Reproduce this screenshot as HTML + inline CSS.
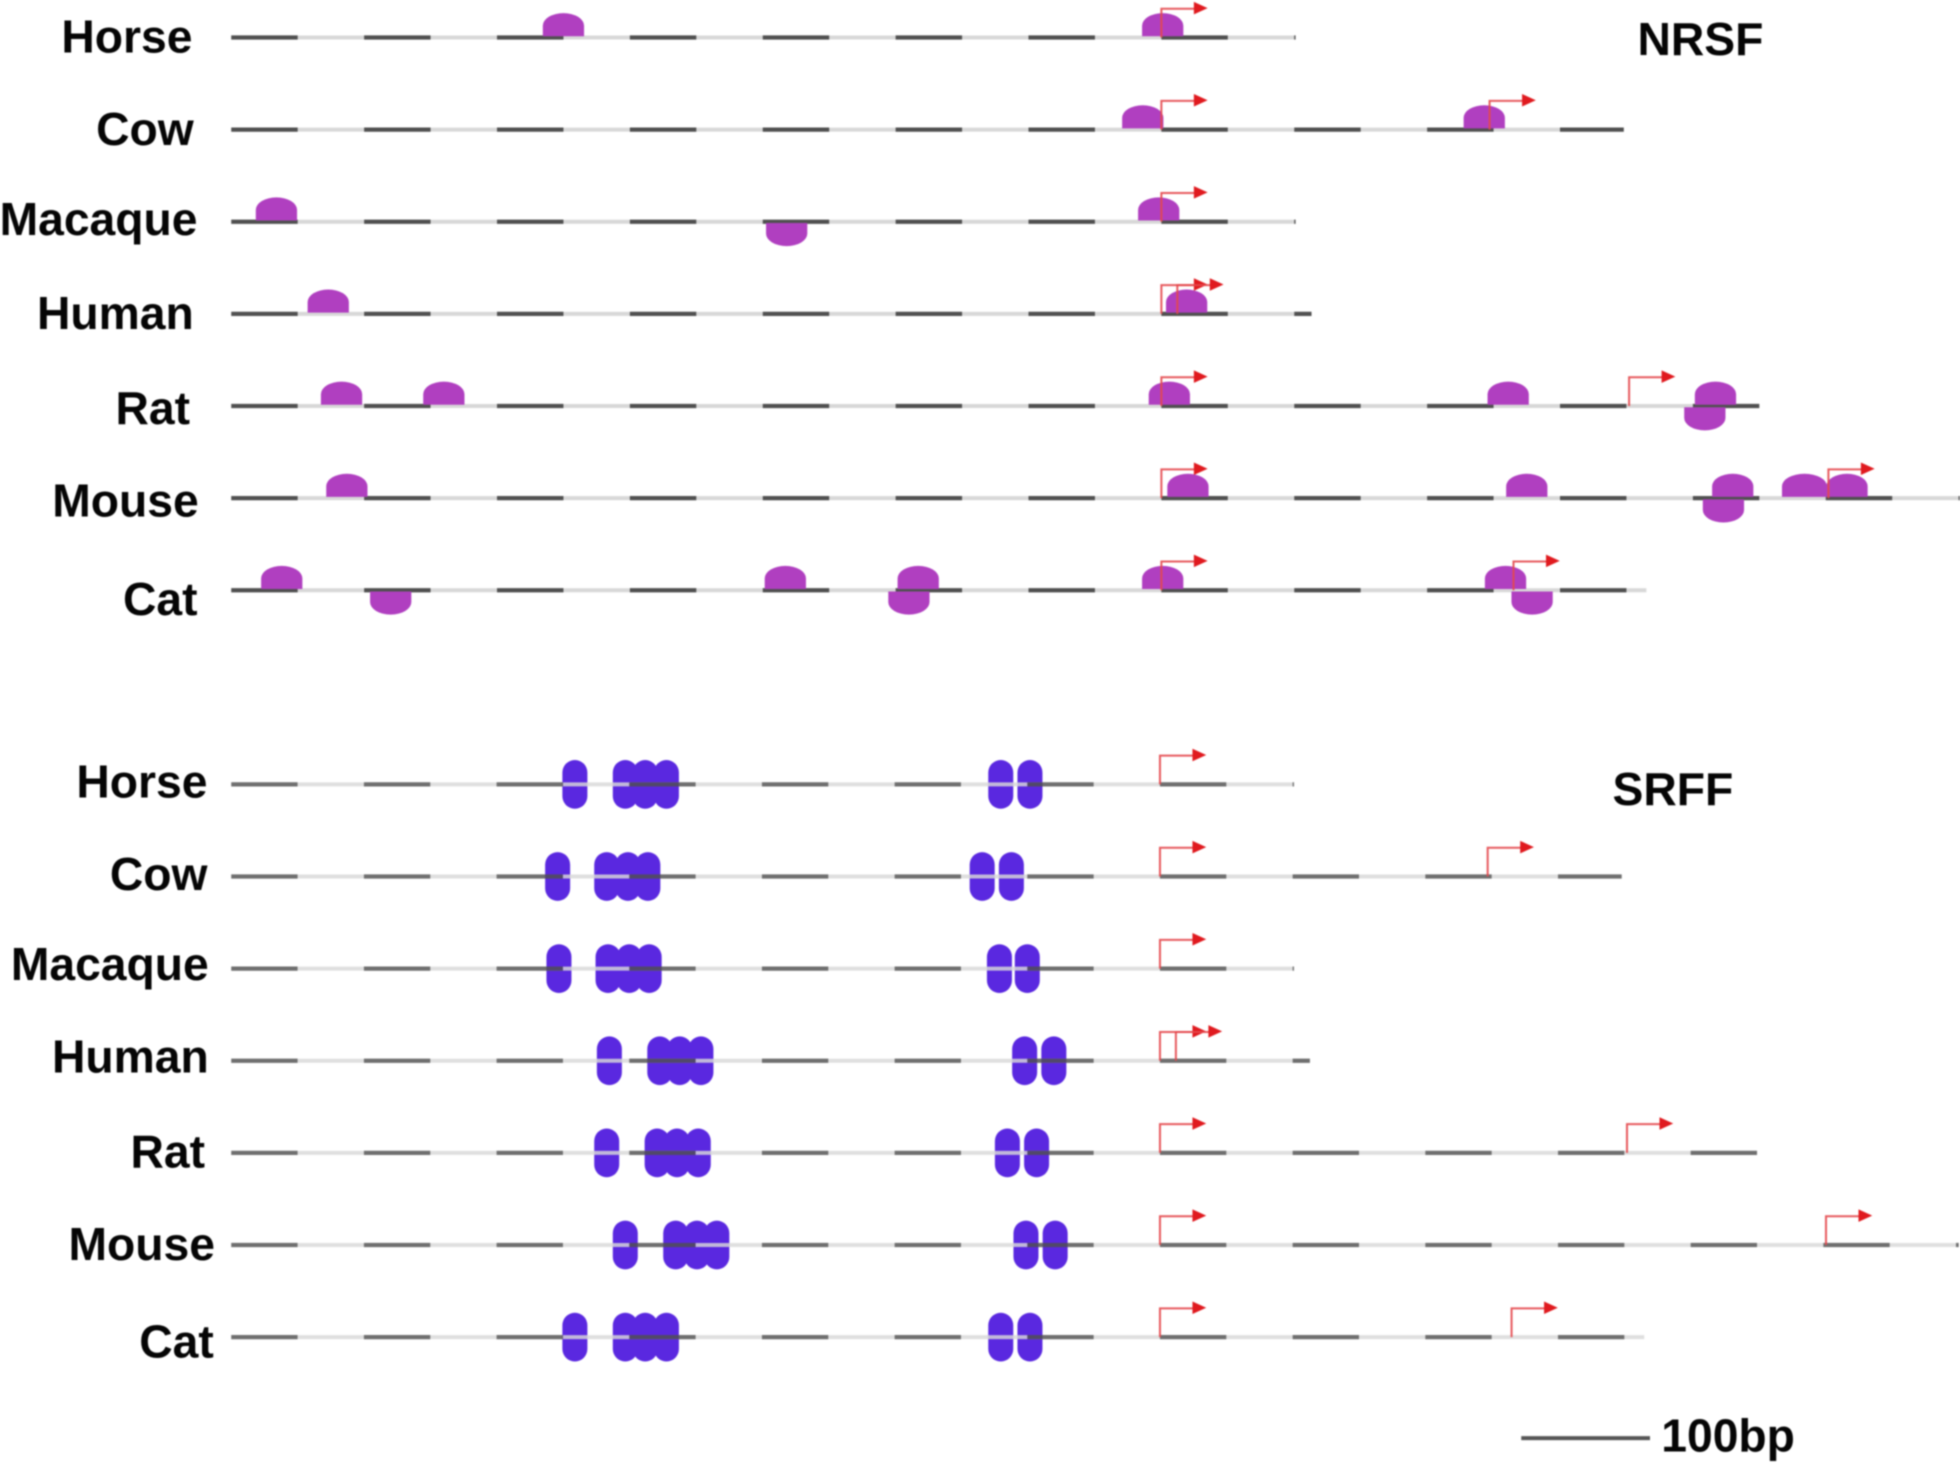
<!DOCTYPE html>
<html lang="en">
<head>
<meta charset="utf-8">
<title>NRSF and SRFF binding sites across species</title>
<style>
html,body{margin:0;padding:0;background:#fff;width:1960px;height:1464px;overflow:hidden}
svg{display:block;filter:blur(0.9px)}
text{font-family:"Liberation Sans",Arial,sans-serif;font-weight:bold;font-size:37px;fill:#050505}
.r{text-anchor:end}
</style>
</head>
<body>
<svg id="chart" xmlns="http://www.w3.org/2000/svg" width="1960" height="1464" viewBox="0 0 1568 1171.2">
<rect x="0" y="0" width="1568" height="1171.2" fill="#fff"/>
<g id="nrsf-layer"></g>
<g id="srff-layer"></g>
<g>
<text class="r" x="154" y="42">Horse</text>
<text class="r" x="155" y="116">Cow</text>
<text class="r" x="158" y="188">Macaque</text>
<text class="r" x="155" y="263">Human</text>
<text class="r" x="152" y="339">Rat</text>
<text class="r" x="159" y="413">Mouse</text>
<text class="r" x="158" y="492">Cat</text>
</g>
<g>
<text class="r" x="166" y="638">Horse</text>
<text class="r" x="166" y="712">Cow</text>
<text class="r" x="167" y="784">Macaque</text>
<text class="r" x="167" y="858">Human</text>
<text class="r" x="164" y="934">Rat</text>
<text class="r" x="172" y="1008">Mouse</text>
<text class="r" x="171" y="1086">Cat</text>
</g>
<text x="1310" y="44">NRSF</text>
<text x="1290" y="644">SRFF</text>
<line x1="1217" y1="1150.5" x2="1320" y2="1150.5" stroke="#555" stroke-width="3.2"/>
<text x="1329" y="1161">100bp</text>
</svg>
<script>
// Species order, top to bottom
const species = ['horse', 'cow', 'macaque', 'human', 'rat', 'mouse', 'cat'];
// Sequence length of each row, in bp
const sequenceEnd = [801, 1048, 801, 813, 1150, 1302, 1065];
// Transcription start sites, in bp
const tssSites = [[700], [700, 947], [700], [700, 712], [700, 1052], [700, 1202], [700, 965]];
// NRSF sites above the line, in bp
const nrsfUpper = [[250, 701], [686, 943], [34, 698], [73, 719], [83, 160, 706, 961, 1117], [87, 720, 975, 1130, 1184, 1216], [38, 417, 517, 701, 959]];
// NRSF sites below the line, in bp
const nrsfLower = [[], [], [418], [], [1109], [1123], [120, 510, 979]];
// SRFF sites (spanning both strands), in bp
const srffSites = [
  [259, 297, 312, 328, 580, 602],
  [246, 283, 299, 314, 566, 588],
  [247, 284, 300, 315, 579, 600],
  [285, 323, 338, 354, 598, 620],
  [283, 321, 336, 352, 585, 607],
  [297, 335, 351, 366, 599, 621],
  [259, 297, 312, 328, 580, 602]
];
// Repeating ruler on each row: dark segment length and period, in bp
const rulerDash = 50;
const rulerPeriod = 100;

const SVG_NS = 'http://www.w3.org/2000/svg';
const originX = 185;
const nrsfBpScale = 1.063;
const srffBpScale = 1.0614;
const nrsfRowTop = 30;
const srffRowTop = 627.5;
const rowStep = 73.7;

function xAxis(bp, scale) { return originX + bp * scale; }
function yAxis(rowIndex, top) { return top + rowIndex * rowStep; }
function add(parent, tag, attrs) {
  const el = document.createElementNS(SVG_NS, tag);
  for (const k in attrs) el.setAttribute(k, attrs[k]);
  parent.appendChild(el);
  return el;
}
function domePath(cx, baseY, dir, w, h) {
  const rx = w / 2, ry = 10, side = h - ry;
  const sweep = dir < 0 ? 1 : 0;
  return 'M' + (cx - rx) + ' ' + baseY + 'V' + (baseY + dir * side) +
    'A' + rx + ' ' + ry + ' 0 0 ' + sweep + ' ' + (cx + rx) + ' ' + (baseY + dir * side) +
    'V' + baseY + 'Z';
}
function drawRuler(group, y, rowIndex, scale, name) {
  const endBp = sequenceEnd[rowIndex];
  const base = add(group, 'line', {x1: xAxis(0, scale), x2: xAxis(endBp, scale), y1: y, y2: y, stroke: '#d8d8d8', 'stroke-width': 3.2});
  
  
  for (let bp = 0; bp < endBp; bp += rulerPeriod) {
    const seg = add(group, 'line', {x1: xAxis(bp, scale), x2: xAxis(Math.min(bp + rulerDash, endBp), scale), y1: y, y2: y, stroke: '#505050', 'stroke-width': 3.4});
    
    
  }
}
function drawTss(group, y, rowIndex, scale, name) {
  tssSites[rowIndex].forEach(function (bp) {
    const x = xAxis(bp, scale);
    const top = y - 23;
    const arrow = add(group, 'path', {d: 'M' + x + ' ' + y + 'V' + top + 'H' + (x + 27), fill: 'none', stroke: '#e4484c', 'stroke-width': 1.6, opacity: 0.9});
    
    
    const head = add(group, 'path', {d: 'M' + (x + 26) + ' ' + (top - 5.5) + 'L' + (x + 37) + ' ' + (top - 0.5) + 'L' + (x + 26) + ' ' + (top + 4.5) + 'Z', fill: '#e01a1f'});
    
    
  });
}

const nrsfLayer = document.getElementById('nrsf-layer');
const srffLayer = document.getElementById('srff-layer');

species.forEach(function (sp, i) {
  const y = yAxis(i, nrsfRowTop);
  const g = add(nrsfLayer, 'g', {});
  
  
  drawRuler(g, y, i, nrsfBpScale, 'nrsf-' + sp);
  nrsfUpper[i].forEach(function (bp) {
    const m = add(g, 'path', {d: domePath(xAxis(bp, nrsfBpScale), y - 1, -1, bp === 1184 ? 36 : 33, 18.5), fill: '#b03fc0'});
    
    
  });
  nrsfLower[i].forEach(function (bp) {
    const m = add(g, 'path', {d: domePath(xAxis(bp, nrsfBpScale), y + 1, 1, 33, 18.5), fill: '#b03fc0'});
    
    
  });
  drawTss(g, y, i, nrsfBpScale, 'nrsf-' + sp);
});

species.forEach(function (sp, i) {
  const y = yAxis(i, srffRowTop);
  const g = add(srffLayer, 'g', {});
  
  
  srffSites[i].forEach(function (bp) {
    const m = add(g, 'rect', {x: xAxis(bp, srffBpScale) - 10, y: y - 19.5, width: 20, height: 39, rx: 10, ry: 10, fill: '#5a28e0'});
    
    
  });
  const lines = add(g, 'g', {opacity: 0.82});
  
  
  drawRuler(lines, y, i, srffBpScale, 'srff-' + sp);
  drawTss(g, y, i, srffBpScale, 'srff-' + sp);
});
</script>
</body>
</html>
